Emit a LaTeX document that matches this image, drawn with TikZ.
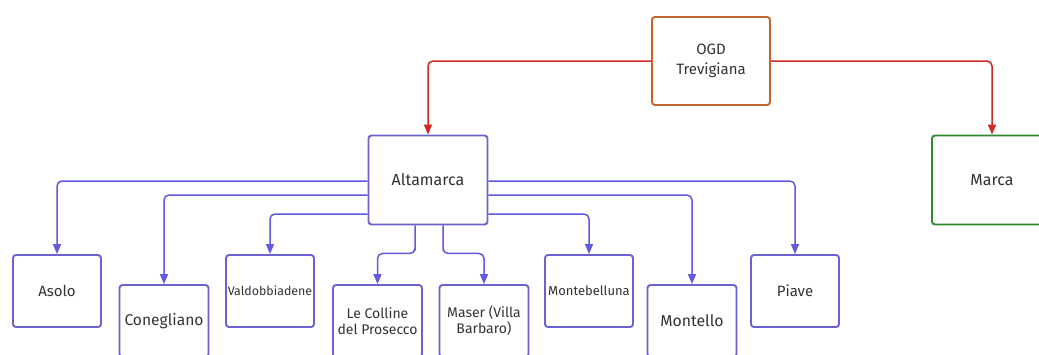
\documentclass[tikz,border=0pt]{standalone}
\usepackage{fontspec}
\setmainfont{Fira Sans}
\usetikzlibrary{arrows.meta}
\definecolor{boxblue}{HTML}{6A62D0}
\definecolor{linkblue}{HTML}{625ADF}
\definecolor{rootorange}{HTML}{C4662C}
\definecolor{linkred}{HTML}{CC2A22}
\definecolor{marcagreen}{HTML}{2E8B2E}
\definecolor{txt}{HTML}{333333}
\tikzset{
  box/.style={draw=boxblue, line width=1.9pt, rounded corners=3pt, fill=white,
    text=txt, align=center, inner sep=1pt, font=\fontsize{14}{16}\selectfont},
  topbox/.style={box, minimum width=88pt, minimum height=72pt},
  lowbox/.style={box, minimum width=89pt, minimum height=72pt},
  link/.style={draw=linkblue, line width=1.5pt, rounded corners=5pt,
    -{Triangle[length=10pt,width=8pt]}},
  rootlink/.style={link, draw=linkred, fill=none},
}
\begin{document}
\begin{tikzpicture}[x=1pt,y=-1pt]
\useasboundingbox (0,0) rectangle (1039,354);
\clip (0,0) rectangle (1039,354);
\fill[white] (0,0) rectangle (1039,354);

% top level
\node[box, draw=rootorange, minimum width=118pt, minimum height=88pt,
  font=\fontsize{15}{20}\selectfont] (ogd) at (711,61) {OGD\\Trevigiana};
\node[box, minimum width=119pt, minimum height=89pt,
  font=\fontsize{16}{19}\selectfont] (alt) at (428,180) {Altamarca};
\node[box, draw=marcagreen, minimum width=120pt, minimum height=89pt,
  font=\fontsize{16}{19}\selectfont] (marca) at (992,180) {Marca};

% territories
\node[topbox, font=\fontsize{15}{18}\selectfont] (asolo) at (57,291) {Asolo};
\node[lowbox, font=\fontsize{15.6}{18}\selectfont] (cone) at (164,321) {Conegliano};
\node[topbox, font=\fontsize{12.4}{14}\selectfont] (valdo) at (270,291) {Valdobbiadene};
\node[lowbox] (colline) at (377.5,321) {Le Colline\\del Prosecco};
\node[lowbox] (maser) at (484,321) {Maser (Villa\\Barbaro)};
\node[topbox, font=\fontsize{13}{15}\selectfont] (monteb) at (589,291) {Montebelluna};
\node[lowbox, font=\fontsize{15.8}{18}\selectfont] (montello) at (692,321) {Montello};
\node[topbox, font=\fontsize{15}{18}\selectfont] (piave) at (795,291) {Piave};

% root connectors
\draw[rootlink] (ogd.west) -| (alt.north);
\draw[rootlink] (ogd.east) -| (marca.north);

% Altamarca connectors, left side
\draw[link] ([yshift=-1pt]alt.west) -| (asolo.north);
\draw[link] ([yshift=-15pt]alt.west) -| (cone.north);
\draw[link] ([yshift=-34pt]alt.west) -| (valdo.north);
% right side
\draw[link] ([yshift=-1pt]alt.east) -| (piave.north);
\draw[link] ([yshift=-15pt]alt.east) -| (montello.north);
\draw[link] ([yshift=-34pt]alt.east) -| (monteb.north);
% bottom
\draw[link] ([xshift=-13pt]alt.south) |- ++(0,28) -| (colline.north);
\draw[link] ([xshift=15pt]alt.south) |- ++(0,28) -| (maser.north);
\end{tikzpicture}
\end{document}
